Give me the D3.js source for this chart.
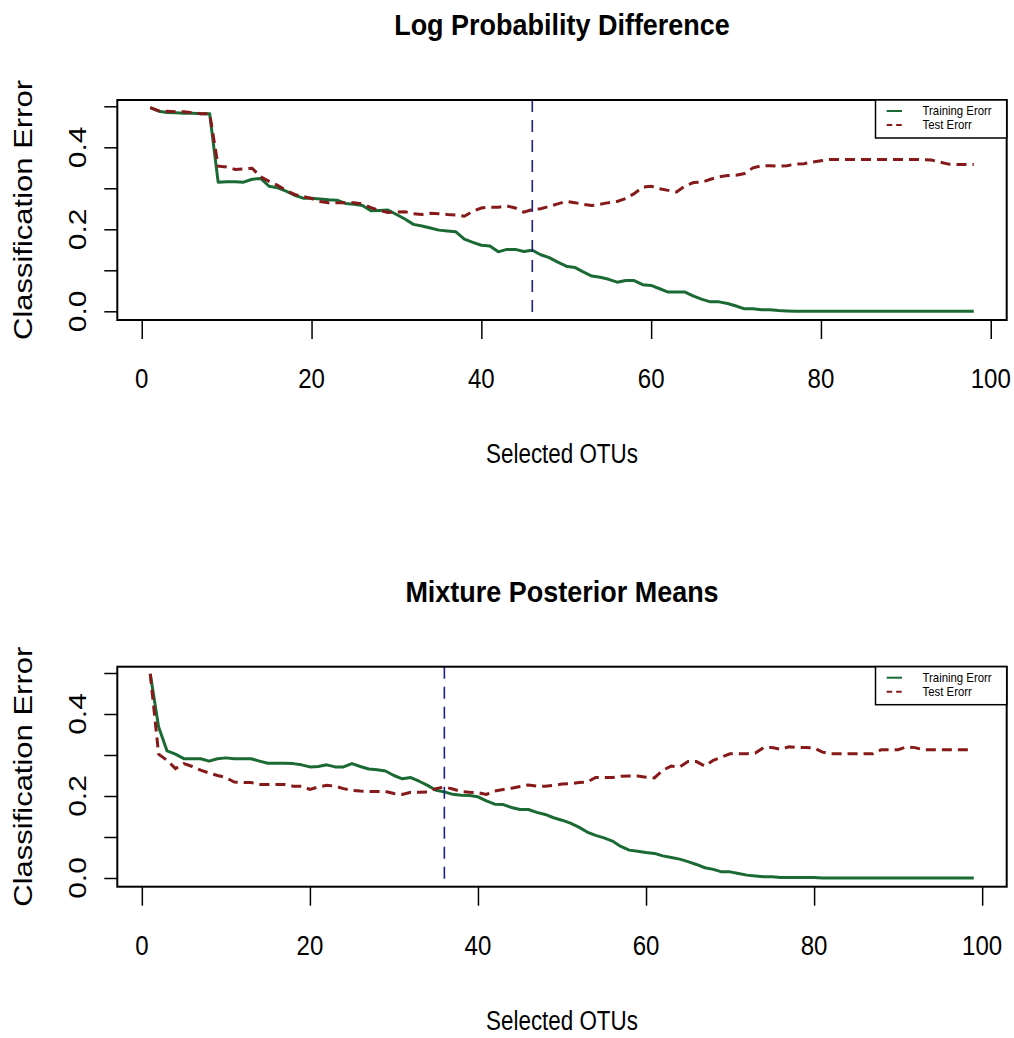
<!DOCTYPE html>
<html><head><meta charset="utf-8">
<script src="https://cdn.jsdelivr.net/npm/d3@7"></script>
<style>body{margin:0;background:#fff}svg{display:block}</style>
</head><body>
<script>
// ---------- data ----------
const titles = ["Log Probability Difference", "Mixture Posterior Means"];
const xLabel = "Selected OTUs";
const yLabel = "Classification Error";
const legendLabels = ["Training Erorr", "Test Erorr"];
const xTicks = [0, 20, 40, 60, 80, 100];
const yTicks = [0, 0.1, 0.2, 0.3, 0.4, 0.5];
const yTickLabels = ["0.0", "", "0.2", "", "0.4", ""];
const cutoffs = [46, 36];

const trainTop = [0.497,0.488,0.485,0.484,0.483,0.483,0.482,0.482,0.315,0.316,
0.316,0.315,0.322,0.324,0.305,0.301,0.293,0.283,0.276,0.276,
0.274,0.272,0.271,0.263,0.261,0.258,0.245,0.246,0.247,0.236,
0.225,0.212,0.208,0.203,0.198,0.196,0.194,0.176,0.168,0.161,
0.159,0.145,0.151,0.151,0.146,0.149,0.138,0.131,0.120,0.110,
0.107,0.096,0.086,0.083,0.078,0.071,0.075,0.075,0.065,0.063,
0.055,0.047,0.047,0.047,0.037,0.029,0.023,0.023,0.019,0.013,
0.006,0.006,0.004,0.004,0.002,0.001,0,0,0,0,
0,0,0,0,0,0,0,0,0,0,
0,0,0,0,0,0,0,0];
const testTop = [0.497,0.489,0.488,0.487,0.487,0.484,0.482,0.482,0.354,0.352,
0.346,0.347,0.349,0.328,0.317,0.307,0.295,0.285,0.280,0.275,
0.268,0.265,0.265,0.265,0.265,0.262,0.253,0.246,0.241,0.242,
0.243,0.238,0.236,0.239,0.238,0.236,0.235,0.232,0.244,0.252,
0.254,0.254,0.257,0.252,0.242,0.248,0.250,0.256,0.262,0.268,
0.265,0.261,0.258,0.261,0.265,0.268,0.275,0.287,0.303,0.305,
0.299,0.295,0.291,0.306,0.314,0.315,0.322,0.328,0.331,0.332,
0.336,0.350,0.355,0.355,0.354,0.355,0.359,0.360,0.364,0.367,
0.370,0.370,0.370,0.370,0.370,0.370,0.370,0.370,0.370,0.370,
0.370,0.370,0.369,0.364,0.359,0.358,0.358,0.358];

const trainBot = [0.498,0.368,0.310,0.302,0.291,0.291,0.291,0.285,0.291,0.293,
0.291,0.291,0.291,0.285,0.280,0.280,0.280,0.279,0.276,0.271,
0.272,0.276,0.271,0.271,0.279,0.272,0.266,0.264,0.261,0.250,
0.242,0.245,0.236,0.226,0.214,0.210,0.204,0.202,0.201,0.198,
0.188,0.180,0.179,0.172,0.167,0.167,0.160,0.155,0.147,0.141,
0.134,0.124,0.112,0.104,0.098,0.090,0.077,0.068,0.065,0.062,
0.060,0.054,0.050,0.046,0.040,0.033,0.025,0.021,0.015,0.015,
0.011,0.007,0.005,0.003,0.003,0.001,0.001,0.001,0.001,0.001,
0,0,0,0,0,0,0,0,0,0,
0,0,0,0,0,0,0,0,0];
const testBot = [0.498,0.302,0.287,0.267,0.279,0.272,0.263,0.256,0.250,0.245,
0.234,0.233,0.233,0.228,0.228,0.228,0.228,0.224,0.224,0.216,
0.222,0.226,0.224,0.218,0.214,0.212,0.211,0.211,0.211,0.206,
0.204,0.209,0.209,0.210,0.218,0.222,0.217,0.211,0.209,0.208,
0.204,0.212,0.216,0.219,0.223,0.227,0.224,0.224,0.226,0.229,
0.230,0.233,0.234,0.245,0.245,0.245,0.248,0.249,0.249,0.246,
0.244,0.263,0.273,0.271,0.284,0.284,0.273,0.287,0.295,0.303,
0.303,0.303,0.305,0.318,0.318,0.314,0.320,0.318,0.318,0.317,
0.307,0.303,0.303,0.303,0.303,0.303,0.303,0.313,0.313,0.313,
0.320,0.318,0.313,0.313,0.313,0.313,0.313,0.313,0.313];

// ---------- drawing ----------
const W = 1014, H = 1038;
const FONT = "'Liberation Sans', Arial, Helvetica, sans-serif";
const GREEN = "#1b6a34", RED = "#861a1a", BLUE = "#1a1f8a";
const svg = d3.select("body").append("svg").attr("width", W).attr("height", H);
svg.append("rect").attr("width", W).attr("height", H).attr("fill", "#fff");

function txt(g, x, y, s, o) {
  return g.append("text")
    .attr("transform", `translate(${x},${y}) scale(${o.sx||1},1)` + (o.rot ? ` rotate(${o.rot})` : ""))
    .attr("text-anchor", o.anchor || "middle")
    .attr("font-family", FONT)
    .attr("font-size", o.size)
    .attr("font-weight", o.weight || "normal")
    .attr("fill", "#000")
    .text(s);
}

function panel(idx, train, test, dy) {
  const g = svg.append("g").attr("transform", `translate(0,${dy})`);
  const n = train.length;
  const xs = d3.range(1, n + 1);
  const ext = 0.04 * (n - 1);
  const left = 117.3, right = 1006.7, top = 100, bottom = 320;
  const x = d3.scaleLinear().domain([1 - ext, n + ext]).range([left, right]);
  const y = d3.scaleLinear().domain([0, 0.5]).range([311.3, 106.3]);

  // title
  txt(g, (left + right) / 2, 35, titles[idx], {size: 29, weight: "bold", sx: 0.93});

  // lines
  const line = d3.line().x((d, i) => x(xs[i])).y(d => y(d));
  g.append("path").datum(train).attr("d", line).attr("fill", "none")
    .attr("stroke", GREEN).attr("stroke-width", 3).attr("stroke-linejoin", "round");
  g.append("path").datum(test).attr("d", line).attr("fill", "none")
    .attr("stroke", RED).attr("stroke-width", 3).attr("stroke-dasharray", "10,6");

  // cutoff
  g.append("line").attr("x1", x(cutoffs[idx])).attr("x2", x(cutoffs[idx]))
    .attr("y1", top).attr("y2", bottom)
    .attr("stroke", BLUE).attr("stroke-width", 1.6).attr("stroke-dasharray", "12,8");

  // box
  g.append("rect").attr("x", left).attr("y", top).attr("width", right - left).attr("height", bottom - top)
    .attr("fill", "none").attr("stroke", "#000").attr("stroke-width", 2);

  // x axis
  const xa = d3.axisBottom(x).tickValues(xTicks).tickSize(19).tickPadding(0).tickFormat(d3.format("d"));
  const xg = g.append("g").attr("transform", `translate(0,${bottom})`).call(xa);
  xg.select(".domain").remove();
  xg.selectAll(".tick line").attr("stroke", "#000").attr("stroke-width", 1.5);
  xg.selectAll(".tick text").remove();
  xTicks.forEach(v => txt(g, x(v), 388, String(v), {size: 28, sx: 0.86}));
  txt(g, (left + right) / 2, 463, xLabel, {size: 28, sx: 0.8});

  // y axis
  const ya = d3.axisLeft(y).tickValues(yTicks).tickSize(13).tickFormat("");
  const yg = g.append("g").attr("transform", `translate(${left},0)`).call(ya);
  yg.select(".domain").remove();
  yg.selectAll(".tick line").attr("stroke", "#000").attr("stroke-width", 1.5);
  yTicks.forEach((v, i) => {
    if (yTickLabels[i]) txt(g, 86, y(v), yTickLabels[i], {size: 30, sx: 0.82, rot: -90});
  });
  txt(g, 31.5, (top + bottom) / 2, yLabel, {size: 31, sx: 0.82, rot: -90});

  // legend
  const lx = 875.5, ly = top, lw = right - lx, lh = 38;
  g.append("rect").attr("x", lx).attr("y", ly).attr("width", lw).attr("height", lh)
    .attr("fill", "#fff").attr("stroke", "#000").attr("stroke-width", 1.5);
  g.append("line").attr("x1", 886.7).attr("x2", 902).attr("y1", ly + 11).attr("y2", ly + 11)
    .attr("stroke", GREEN).attr("stroke-width", 2);
  g.append("line").attr("x1", 886.7).attr("x2", 902).attr("y1", ly + 25).attr("y2", ly + 25)
    .attr("stroke", RED).attr("stroke-width", 2).attr("stroke-dasharray", "5.5,4");
  txt(g, 922.5, ly + 15, legendLabels[0], {size: 12, sx: 0.95, anchor: "start"});
  txt(g, 922.5, ly + 29, legendLabels[1], {size: 12, sx: 0.95, anchor: "start"});
}

panel(0, trainTop, testTop, 0);
panel(1, trainBot, testBot, 566.7);
</script>
</body></html>
